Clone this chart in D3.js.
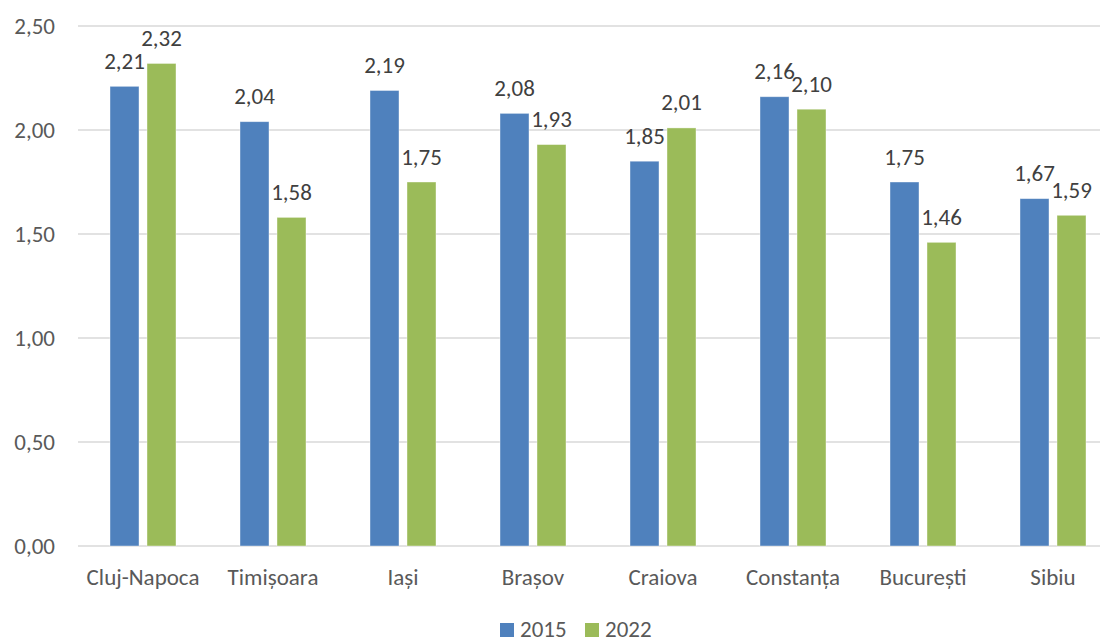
<!DOCTYPE html>
<html>
<head>
<meta charset="utf-8">
<script src="https://cdn.jsdelivr.net/npm/d3@7"></script>
<style>
  body { margin: 0; background: #fff; }
  svg { display: block; }
</style>
</head>
<body>
<svg id="chart" width="1103" height="639"></svg>
<script>
// Cities and the two years compared
const cities = ["Cluj-Napoca", "Timișoara", "Iași", "Brașov", "Craiova", "Constanța", "București", "Sibiu"];
const years = ["2015", "2022"];
const values2015 = [2.21, 2.04, 2.19, 2.08, 1.85, 2.16, 1.75, 1.67];
const values2022 = [2.32, 1.58, 1.75, 1.93, 2.01, 2.10, 1.46, 1.59];
const yTicks = [0, 0.5, 1, 1.5, 2, 2.5];
const colors = ["#4F81BD", "#9BBB59"];

const svg = d3.select("#chart");
const plotLeft = 78, plotRight = 1118, gridRight = 1100, plotTop = 26, plotBase = 546;
const fontFamily = "Carlito, Calibri, Lato, sans-serif";
const fs = "23px";

const fmt = v => d3.format(".2f")(v).replace(".", ",");

const x = d3.scaleBand().domain(cities).range([plotLeft, plotRight]);
const xi = d3.scaleBand().domain(years).range([-33, 33]).paddingInner(0.216);
const y = d3.scaleLinear().domain([0, 2.5]).range([plotBase, plotTop]);

svg.attr("font-family", fontFamily);

// Horizontal gridlines
svg.append("g").selectAll("line").data(yTicks).join("line")
  .attr("x1", plotLeft).attr("x2", gridRight)
  .attr("y1", d => y(d)).attr("y2", d => y(d))
  .attr("stroke", "#d9d9d9").attr("stroke-width", 1.3);

// Y axis labels
const yAxis = d3.axisLeft(y).tickValues(yTicks).tickFormat(fmt).tickSize(0).tickPadding(0);
const ya = svg.append("g").attr("transform", `translate(55,0)`).call(yAxis)
  .attr("font-family", fontFamily).attr("font-size", fs);
ya.select(".domain").remove();
ya.selectAll("text").attr("fill", "#595959").attr("dy", "0.33em");

// Category labels
const xAxis = d3.axisBottom(x).tickSize(0).tickPadding(0);
const xa = svg.append("g").attr("transform", `translate(0,585)`).call(xAxis)
  .attr("font-family", fontFamily).attr("font-size", fs);
xa.select(".domain").remove();
xa.selectAll("text").attr("fill", "#595959").attr("dy", "0");

const rows = cities.map((c, i) => ({ city: c, vals: [values2015[i], values2022[i]] }));

const groups = svg.append("g").selectAll("g").data(rows).join("g")
  .attr("transform", d => `translate(${x(d.city) + x.bandwidth() / 2},0)`);

groups.selectAll("rect").data(d => d.vals.map((v, k) => ({ v, k }))).join("rect")
  .attr("x", d => xi(years[d.k]))
  .attr("width", xi.bandwidth())
  .attr("y", d => y(d.v))
  .attr("height", d => y(0) - y(d.v))
  .attr("fill", d => colors[d.k])
  .attr("stroke", "#ffffff").attr("stroke-opacity", 0.5).attr("stroke-width", 0.8);

groups.selectAll("text.val").data(d => d.vals.map((v, k) => ({ v, k }))).join("text")
  .attr("class", "val")
  .attr("x", d => xi(years[d.k]) + xi.bandwidth() / 2)
  .attr("y", d => y(d.v) - 17.5)
  .attr("text-anchor", "middle")
  .attr("fill", "#404040")
  .attr("font-size", fs)
  .text(d => fmt(d.v));

// Legend
const legend = svg.append("g").attr("transform", `translate(500,623)`);
const items = legend.selectAll("g").data(years).join("g")
  .attr("transform", (d, i) => `translate(${i * 85},0)`);
items.append("rect").attr("width", 14).attr("height", 14).attr("fill", (d, i) => colors[i]);
items.append("text").attr("x", 20).attr("y", 13.5).attr("fill", "#595959")
  .attr("font-size", fs).text(d => d);
</script>
</body>
</html>
